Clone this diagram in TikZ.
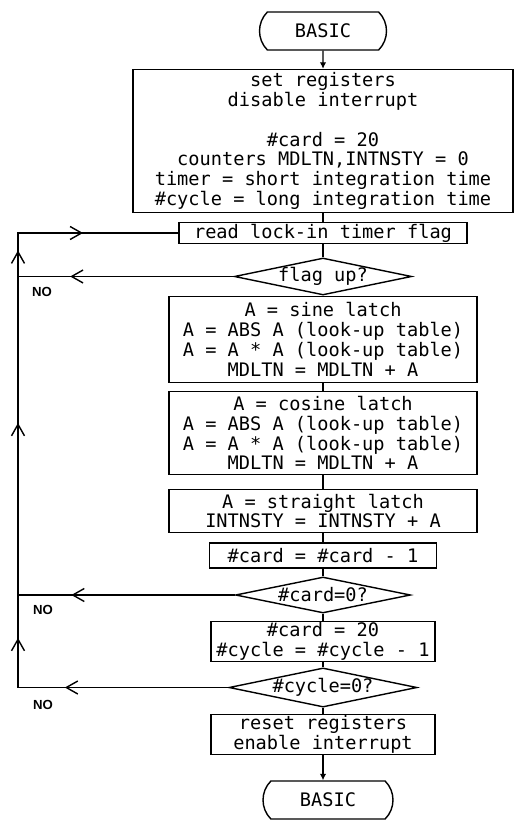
\documentclass[tikz,border=0pt]{standalone}
\usepackage{fontspec}
\setmonofont{DejaVu Sans Mono}
\newfontfamily\nofont{Liberation Sans}
\usetikzlibrary{shapes.geometric,shapes.misc,arrows.meta,decorations.markings}

\newcommand{\flowfont}{\ttfamily\fontsize{10.6}{11.3}\selectfont}

\tikzset{
  box/.style={draw, line width=0.8pt, inner sep=0pt, align=center, font=\flowfont},
  term/.style={box, rounded rectangle, rounded rectangle arc length=90},
  test/.style={box, diamond, aspect=4.8},
  flow/.style={line width=0.8pt},
  into/.style={flow, -{Latex[length=1.3mm,width=1.3mm]}},
  loopmark/.style={postaction={decorate, decoration={markings,
      mark=at position #1 with {\arrow{Straight Barb[length=2.3mm,width=2.6mm]}}}}},
  nolabel/.style={font=\nofont\bfseries\fontsize{7.5}{9}\selectfont}
}

\begin{document}
\begin{tikzpicture}[x=0.02cm, y=-0.02cm]
  \useasboundingbox (0,0) rectangle (515,820);

  % Flow chart boxes
  \node[term, minimum width=2.54cm, minimum height=0.76cm] (start) at (323,31) {BASIC};
  \node[box, minimum width=7.6cm, minimum height=2.86cm] (init) at (323,141)
    {set registers\\ disable interrupt\\[11.3pt] \#card = 20\\ counters MDLTN,INTNSTY = 0\\
     timer = short integration time\\ \#cycle = long integration time};
  \node[box, minimum width=5.76cm, minimum height=0.42cm] (readflag) at (323,233) {read lock-in timer flag};
  \node[test, minimum width=3.44cm, minimum height=0.74cm] (flagup) at (323,276.5) {flag up?};
  \node[box, minimum width=6.16cm, minimum height=1.72cm] (sine) at (323,339.5)
    {A = sine latch\\ A = ABS A (look-up table)\\ A = A * A (look-up table)\\ MDLTN = MDLTN + A};
  \node[box, minimum width=6.16cm, minimum height=1.66cm] (cosine) at (323,433)
    {A = cosine latch\\ A = ABS A (look-up table)\\ A = A * A (look-up table)\\ MDLTN = MDLTN + A};
  \node[box, minimum width=6.16cm, minimum height=0.86cm] (straight) at (323,511)
    {A = straight latch\\ INTNSTY = INTNSTY + A};
  \node[box, minimum width=4.54cm, minimum height=0.5cm] (carddec) at (323,555.5) {\#card = \#card - 1};
  \node[test, minimum width=3.5cm, minimum height=0.72cm] (cardzero) at (323,595) {\#card=0?};
  \node[box, minimum width=4.48cm, minimum height=0.8cm] (cycledec) at (323,641.5)
    {\#card = 20\\ \#cycle = \#cycle - 1};
  \node[test, minimum width=3.54cm, minimum height=0.74cm] (cyclezero) at (323,687.5) {\#cycle=0?};
  \node[box, minimum width=4.48cm, minimum height=0.8cm] (reset) at (323,734.5)
    {reset registers\\ enable interrupt};
  \node[term, minimum width=2.6cm, minimum height=0.76cm] (finish) at (328,800) {BASIC};

  % Straight down
  \draw[into] (start) -- (init);
  \foreach \a/\b in {init/readflag, readflag/flagup, flagup/sine, sine/cosine, cosine/straight,
                     straight/carddec, carddec/cardzero, cardzero/cycledec, cycledec/cyclezero,
                     cyclezero/reset}
    \draw[flow] (\a) -- (\b);
  \draw[into] (reset) -- (reset |- finish.north);

  % NO branches back up the left rail
  \coordinate (rail) at (18,0);
  \draw[flow, loopmark=3.27cm, loopmark=5.2cm, loopmark=9.5cm, loopmark=12.95cm, loopmark=14.6cm]
    (cyclezero.west) -- (cyclezero.west -| rail) -- (readflag.west -| rail) -- (readflag.west);
  \draw[flow, loopmark=3.27cm] (flagup.west) -- (flagup.west -| rail);
  \draw[flow, loopmark=3.27cm] (cardzero.west) -- (cardzero.west -| rail);

  % Labels
  \node[nolabel] (no1) at (42,292) {NO};
  \node[nolabel] (no2) at (43,610) {NO};
  \node[nolabel] (no3) at (43,705) {NO};
\end{tikzpicture}
\end{document}
